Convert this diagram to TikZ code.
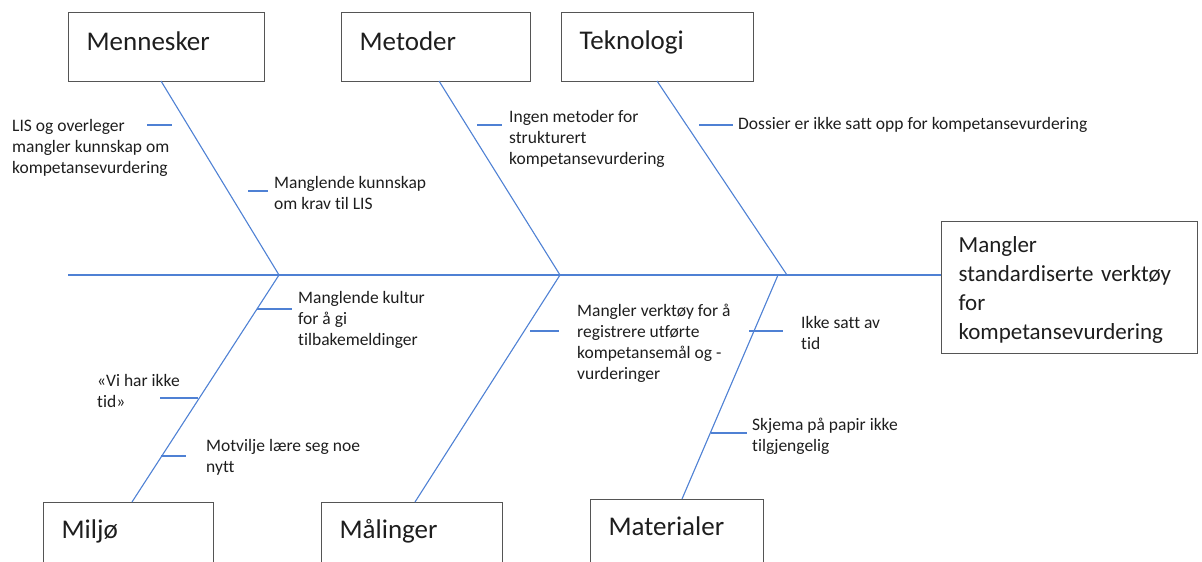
\documentclass[tikz,border=0pt]{standalone}
\usepackage{fontspec}
\setmainfont{Carlito}[Ligatures=CommonOff]
\definecolor{bonecol}{RGB}{79,129,212}
\definecolor{boxcol}{RGB}{85,85,85}
\definecolor{txtcol}{RGB}{30,30,30}
\begin{document}
\begin{tikzpicture}[x=1pt,y=-1pt,
  bone/.style={draw=bonecol, line width=1.1pt},
  catbox/.style={draw=boxcol, line width=1.3pt, fill=white, anchor=north west,
    inner xsep=18pt, inner ysep=0pt, align=left, text=txtcol,
    font=\fontsize{27}{32}\selectfont},
  effbox/.style={draw=boxcol, line width=1.3pt, fill=white, anchor=north west,
    inner xsep=17pt, inner ysep=0pt, align=left, text=txtcol,
    text width=222pt, minimum height=132pt,
    font=\fontsize{23}{29}\selectfont},
  cause/.style={anchor=north west, inner sep=0pt, align=left, text=txtcol,
    font=\fontsize{17.5}{21}\selectfont}]
\useasboundingbox (0,0) rectangle (1202,562);
\clip (0,0) rectangle (1202,562);

% category boxes
\node[catbox, text width=160pt, text height=38pt, text depth=31pt] (men) at (68,12) {Mennesker};
\node[catbox, text width=153pt, text height=38pt, text depth=31pt] (met) at (341,12) {Metoder};
\node[catbox, text width=156pt, text height=37pt, text depth=32pt] (tek) at (561,12) {Teknologi};
\node[catbox, text width=134pt, text height=36pt, text depth=80pt] (mil) at (43,502) {Miljø};
\node[catbox, text width=145pt, text height=36pt, text depth=80pt] (maa) at (321,502) {Målinger};
\node[catbox, text width=137pt, text height=36pt, text depth=80pt] (mat) at (590,499) {Materialer};

% effect
\node[effbox] (eff) at (941,221) {\rule{0pt}{23pt}Mangler\\standardiserte verktøy\\for\\kompetansevurdering\rule[-6pt]{0pt}{6pt}};

% spine and junctions
\coordinate (s0) at (68,275);
\coordinate (j1) at (279,275);
\coordinate (j2) at (560,275);
\coordinate (j3) at (787,275);
\coordinate (j4) at (778,275);
\draw[bone] (s0) -- (eff.west |- s0);

% bones
\coordinate (b1) at (161,81);
\coordinate (b2) at (439,81);
\coordinate (b3) at (657,81);
\coordinate (b4) at (132,502);
\coordinate (b5) at (415,502);
\coordinate (b6) at (682,499);
\draw[bone] (b1) -- (j1);
\draw[bone] (b2) -- (j2);
\draw[bone] (b3) -- (j3);
\draw[bone] (j1) -- (b4);
\draw[bone] (j2) -- (b5);
\draw[bone] (j4) -- (b6);

% cause labels
\node[cause] (c1) at (12,117) {\strut LIS og overleger\\mangler kunnskap om\\kompetansevurdering};
\node[cause] (c2) at (274,174) {\strut Manglende kunnskap\\om krav til LIS};
\node[cause] (c3) at (509,108) {\strut Ingen metoder for\\strukturert\\kompetansevurdering};
\node[cause] (c4) at (738,115) {\strut Dossier er ikke satt opp for kompetansevurdering};
\node[cause] (c5) at (298,289) {\strut Manglende kultur\\for å gi\\tilbakemeldinger};
\node[cause] (c6) at (97,372) {\strut «Vi har ikke\\tid»};
\node[cause] (c7) at (206,437) {\strut Motvilje lære seg noe\\nytt};
\node[cause] (c8) at (577,302) {\strut Mangler verktøy for å\\registrere utførte\\kompetansemål og -\\vurderinger};
\node[cause] (c9) at (801,314) {\strut Ikke satt av\\tid};
\node[cause] (c10) at (752,416) {\strut Skjema på papir ikke\\tilgjengelig};

% ticks
\coordinate (t1a) at (147,125);  \coordinate (t1b) at (172,125);
\coordinate (t2a) at (248,191);  \coordinate (t2b) at (268,191);
\coordinate (t3a) at (477,125);  \coordinate (t3b) at (502,125);
\coordinate (t4a) at (699,125);  \coordinate (t4b) at (733,125);
\coordinate (t5a) at (257,309);  \coordinate (t5b) at (292,309);
\coordinate (t6a) at (160,398);  \coordinate (t6b) at (198,398);
\coordinate (t7a) at (161,456);  \coordinate (t7b) at (186,456);
\coordinate (t8a) at (530,331);  \coordinate (t8b) at (559,331);
\coordinate (t9a) at (749,331);  \coordinate (t9b) at (783,331);
\coordinate (t10a) at (711,433); \coordinate (t10b) at (747,433);
\foreach \i in {1,...,10} {\draw[bone] (t\i a) -- (t\i b);}
\end{tikzpicture}
\end{document}
